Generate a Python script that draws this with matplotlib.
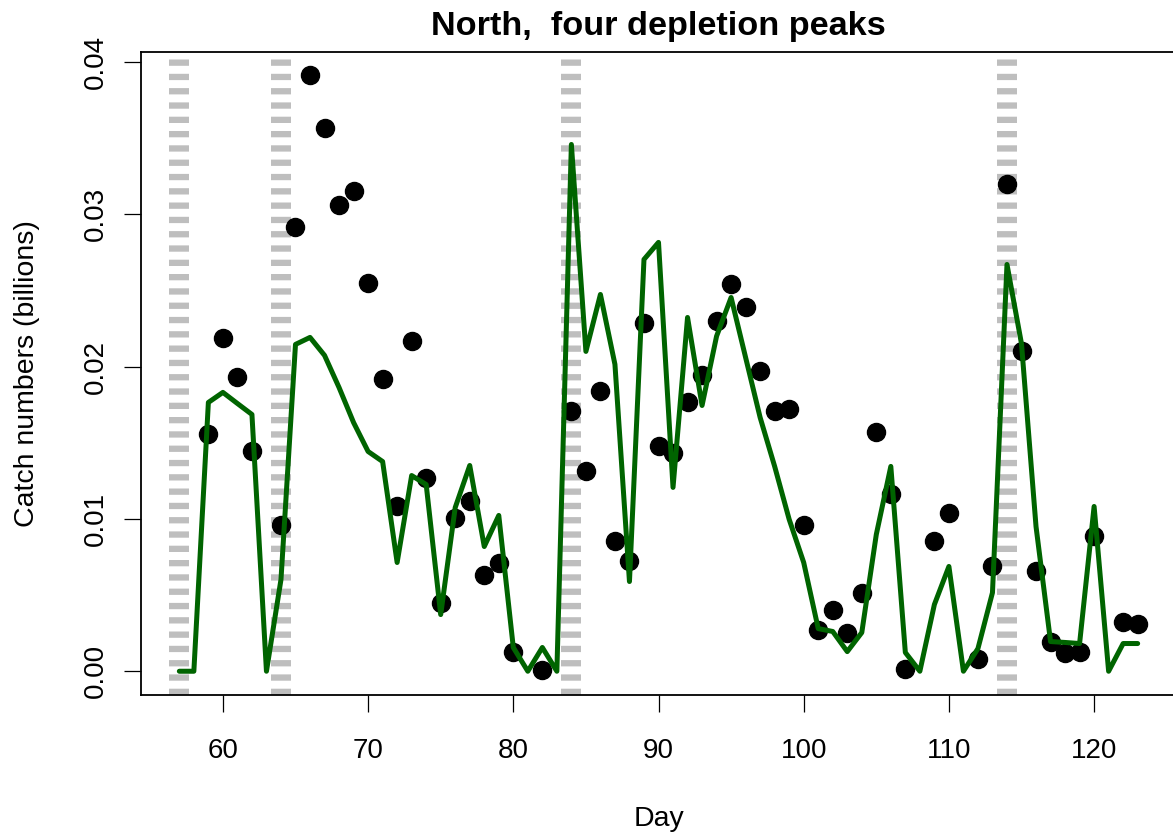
import numpy as np
import matplotlib
matplotlib.use("Agg")
import matplotlib.pyplot as plt

plt.rcParams['font.family'] = ['Liberation Sans', 'DejaVu Sans']

days = np.arange(57, 124)
nan = np.nan
catch_obs = [nan, nan, 0.01555, 0.02185, 0.01929, 0.01443, nan, 0.00957, 0.02914, 0.03912,
             0.03564, 0.03059, 0.03151, 0.02547, 0.01916, 0.01082, 0.02166, 0.01272, 0.00445, 0.01003,
             0.01121, 0.00635, 0.00714, 0.00129, nan, 0.00005, nan, 0.01706, 0.01318, 0.01837,
             0.00858, 0.00727, 0.02284, 0.01482, 0.01430, 0.01771, 0.01948, 0.02297, 0.02540, 0.02389,
             0.01969, 0.01712, 0.01725, 0.00963, 0.00268, 0.00405, 0.00248, 0.00517, 0.01568, 0.01164,
             0.00018, nan, 0.00852, 0.01036, nan, 0.00083, 0.00694, 0.03202, 0.02106, 0.00661,
             0.00189, 0.00123, 0.00129, 0.00891, nan, 0.00326, 0.00307]
catch_fit = [0.0, 0.0, 0.01765, 0.01831, 0.01758, 0.01686, 0.0, 0.00602, 0.02146, 0.02192,
             0.02074, 0.01863, 0.01633, 0.01443, 0.01377, 0.00714, 0.01285, 0.01226, 0.00372, 0.01075,
             0.01351, 0.00819, 0.01023, 0.00156, 0.0, 0.00156, 0.0, 0.03459, 0.02100, 0.02474,
             0.02015, 0.00589, 0.02704, 0.02816, 0.01207, 0.02323, 0.01745, 0.02200, 0.02454, 0.02060,
             0.01666, 0.01345, 0.00997, 0.00714, 0.00280, 0.00261, 0.00129, 0.00254, 0.00898, 0.01345,
             0.00123, 0.0, 0.00438, 0.00688, 0.0, 0.00149, 0.00516, 0.02671, 0.02150, 0.00950,
             0.00195, 0.00189, 0.00182, 0.01082, 0.0, 0.00182, 0.00182]
depletion_days = [57, 64, 84, 114]
x_ticks = [60, 70, 80, 90, 100, 110, 120]
y_ticks = [0.00, 0.01, 0.02, 0.03, 0.04]

W, H = 1173, 838
fig = plt.figure(figsize=(W / 100, H / 100), dpi=100)
ax = fig.add_axes([141 / W, (H - 695) / H, (1176 - 141) / W, (695 - 52) / H])

for d in depletion_days:
    ax.axvline(d, color='#BEBEBE', lw=14.4, dashes=(0.315, 0.4), zorder=1)

ax.plot(days, catch_obs, 'o', color='black', markersize=13, zorder=2)
ax.plot(days, catch_fit, '-', color='#006400', lw=3.6, zorder=3,
        solid_joinstyle='round', solid_capstyle='round')

ax.set_xlim(54.36, 125.64)
ax.set_ylim(-0.00156, 0.04066)
ax.set_xticks(x_ticks)
ax.set_xticklabels([str(t) for t in x_ticks])
ax.set_yticks(y_ticks)
ax.set_yticklabels(['%.2f' % t for t in y_ticks], rotation=90, va='center')

for s in ax.spines.values():
    s.set_linewidth(1.3)
ax.tick_params(axis='both', length=12.2, width=0.9, labelsize=20)
ax.tick_params(axis='x', pad=19)
ax.tick_params(axis='y', pad=11)

ax.set_xlabel('Day', fontsize=20.5)
ax.xaxis.set_label_coords(0.5, (695 - 806) / 643)
ax.set_ylabel('Catch numbers (billions)', fontsize=20.5)
ax.yaxis.set_label_coords((40 - 141) / 1035, 0.5)
ax.set_title('North,  four depletion peaks', fontsize=24.7, fontweight='bold', y=(695 - 35) / 643, pad=0)

fig.savefig('out.png', dpi=100)
